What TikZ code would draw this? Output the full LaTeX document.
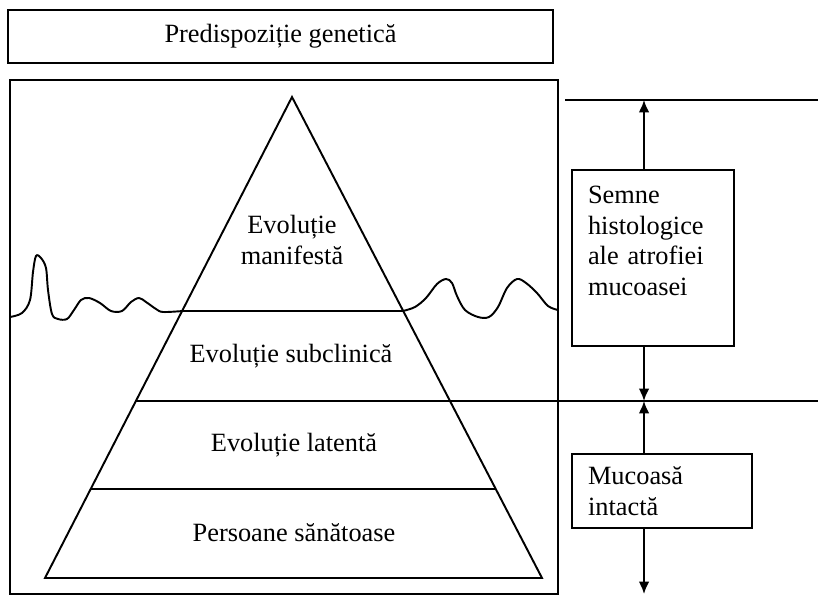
\documentclass[tikz,border=0pt]{standalone}
\usepackage{fontspec}
\setmainfont{Liberation Serif}
\usetikzlibrary{arrows.meta}
\begin{document}
\begin{tikzpicture}[x=0.02cm,y=-0.02cm,>={Latex[length=7pt,width=6pt]},line width=1.1pt]
	\tikzstyle{every node}=[font=\fontsize{15}{17.6}\selectfont,inner sep=0pt];
	\tikzstyle{box}=[draw,rectangle,line width=1.1pt];
	\tikzstyle{sidebox}=[box,align=left,inner xsep=0.32cm];

    \useasboundingbox (0, 0) rectangle (818, 597);

    \node at (280.5, 36.5) (pred) [box,minimum width=10.9cm,minimum height=1.06cm] {Predispoziție genetică};
    \draw (10, 80) rectangle (558, 594);

    % pyramid
    \coordinate (apex) at (292, 97);
    \coordinate (bl) at (45, 578);
    \coordinate (br) at (542, 578);
    \draw (apex) -- (bl) -- (br) -- cycle;
    \draw (183, 311) to (403, 311);
    \draw (136, 401) to (818, 401);
    \draw (91, 489) to (496, 489);

    \node at (292, 240) (manif) [align=center] {Evoluție\\manifestă};
    \node at (291, 356) (subcl) {Evoluție subclinică};
    \node at (294, 445) (laten) {Evoluție latentă};
    \node at (294, 533) (sanat) {Persoane sănătoase};

    % mucosa
    \draw plot[smooth,tension=0.55] coordinates {(10,317) (22,313) (30,300) (33,272) (36,256) (41,258) (46,268) (48,290) (52,314) (58,319) (67,319) (74,310) (81,300) (89,298) (100,303) (111,311) (122,311) (131,302) (139,298) (146,302) (156,309) (163,312) (183,311)};
    \draw plot[smooth,tension=0.55] coordinates {(403,311) (415,307) (426,298) (437,284) (446,279) (452,283) (457,296) (465,310) (478,317) (489,317) (498,307) (507,288) (517,279) (526,283) (537,293) (548,306) (558,310)};

    % right scale
    \coordinate (ttop) at (644, 100);
    \coordinate (tmid) at (644, 401);
    \coordinate (tbot) at (644, 594);
    \draw (565, 100) to (818, 100);

    \node at (653, 258) (histo) [sidebox,text width=2.6cm,inner ysep=9pt] {Semne\\histologice\\ale atrofiei\\mucoasei\\[2pt]\mbox{}};
    \node at (662, 491) (intact) [sidebox,text width=2.96cm,inner ysep=7pt] {Mucoasă\\intactă};

    \draw[->] (ttop |- histo.north) to (ttop);
    \draw[->] (tmid |- histo.south) to (tmid);
    \draw[->] (tmid |- intact.north) to (tmid);
    \draw[->] (tbot |- intact.south) to (tbot);
\end{tikzpicture}
\end{document}
